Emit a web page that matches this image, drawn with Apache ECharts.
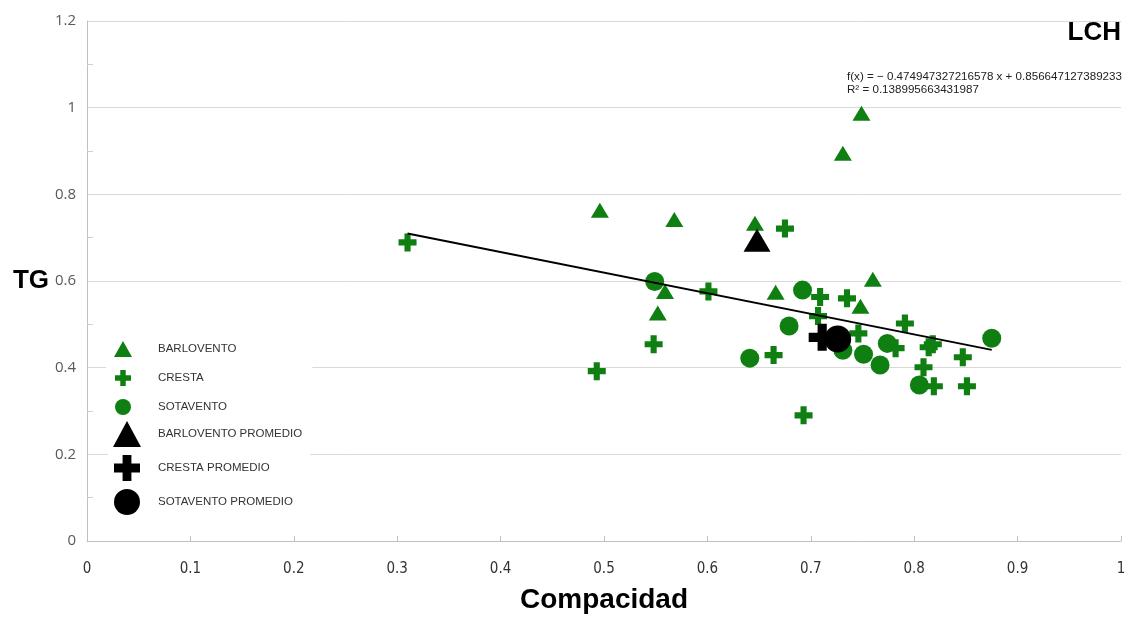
<!DOCTYPE html>
<html>
<head>
<meta charset="utf-8">
<script src="https://cdn.jsdelivr.net/npm/echarts@6/dist/echarts.min.js"></script>
<style>
html,body{margin:0;padding:0;background:#fff;}
#chart{width:1127px;height:617px;}
</style>
</head>
<body>
<div id="chart"></div>
<script>
// ---- data ----
const barloventoX = [0.496, 0.568, 0.646, 0.749, 0.731, 0.760, 0.559, 0.552, 0.666, 0.748];
const barloventoY = [0.763, 0.742, 0.733, 0.987, 0.895, 0.604, 0.576, 0.526, 0.574, 0.542];
const crestaX = [0.310, 0.493, 0.548, 0.601, 0.675, 0.664, 0.693, 0.709, 0.735, 0.707, 0.746, 0.791, 0.782, 0.814, 0.818, 0.809, 0.819, 0.847, 0.851];
const crestaY = [0.689, 0.392, 0.454, 0.576, 0.721, 0.429, 0.290, 0.563, 0.560, 0.519, 0.479, 0.502, 0.445, 0.447, 0.454, 0.401, 0.357, 0.424, 0.357];
const sotaventoX = [0.549, 0.692, 0.679, 0.641, 0.731, 0.751, 0.767, 0.774, 0.805, 0.875];
const sotaventoY = [0.599, 0.579, 0.496, 0.422, 0.440, 0.431, 0.406, 0.456, 0.360, 0.468];
const barloventoPromX = [0.648];
const barloventoPromY = [0.694];
const crestaPromX = [0.711];
const crestaPromY = [0.470];
const sotaventoPromX = [0.726];
const sotaventoPromY = [0.466];
const trendSlope = -0.474947327216578;
const trendIntercept = 0.856647127389233;
const trendR2 = 0.138995663431987;
const seriesNames = ['BARLOVENTO', 'CRESTA', 'SOTAVENTO', 'BARLOVENTO PROMEDIO', 'CRESTA PROMEDIO', 'SOTAVENTO PROMEDIO'];
const xTicks = [0, 0.1, 0.2, 0.3, 0.4, 0.5, 0.6, 0.7, 0.8, 0.9, 1];
const yTicks = [0, 0.2, 0.4, 0.6, 0.8, 1, 1.2];

// ---- build ----
const zip = (xs, ys) => xs.map((x, i) => [x, ys[i]]);
const allX = barloventoX.concat(crestaX, sotaventoX);
const xMin = Math.min(...allX), xMax = Math.max(...allX);
const trendData = [[xMin, trendSlope * xMin + trendIntercept], [xMax, trendSlope * xMax + trendIntercept]];

const PLUS = 'path://M33,0H67V33H100V67H67V100H33V67H0V33H33Z';
const GREEN = '#0f7f12';

const chart = echarts.init(document.getElementById('chart'), null, {renderer: 'canvas'});
const legendText = {fontFamily: '"Liberation Sans", Arial, sans-serif', fontSize: 11.5, color: '#333'};

chart.setOption({
  animation: false,
  backgroundColor: '#fff',
  grid: {left: 87, right: 6, top: 21, bottom: 76, containLabel: false, outerBoundsMode: 'none'},
  title: [
    {text: 'LCH', right: 6, top: 20, padding: 0,
     textStyle: {fontFamily: '"Liberation Sans", Arial, sans-serif', fontWeight: 'bold', fontSize: 26, color: '#000'}},
    {text: 'f(x) = − ' + Math.abs(trendSlope) + ' x + ' + trendIntercept + '\nR² = ' + trendR2,
     left: 847, top: 70, padding: 0,
     textStyle: {fontFamily: '"Liberation Sans", Arial, sans-serif', fontWeight: 'normal', fontSize: 11.6, lineHeight: 13, color: '#222'}}
  ],
  legend: [
    {data: seriesNames.slice(0, 3), orient: 'vertical', left: 106, top: 335,
     itemWidth: 18, itemHeight: 16, itemGap: 13, backgroundColor: '#fff', padding: [6, 76, 6, 8],
     selectedMode: false,
     textStyle: Object.assign({}, legendText, {padding: [0, 0, 0, 21]})},
    {data: seriesNames.slice(3), orient: 'vertical', left: 108, top: 418,
     itemWidth: 28, itemHeight: 26, itemGap: 8, backgroundColor: '#fff', padding: [3, 8, 3, 5],
     selectedMode: false,
     textStyle: Object.assign({}, legendText, {padding: [0, 0, 0, 12]})}
  ],
  xAxis: {
    type: 'value', min: xTicks[0], max: xTicks[xTicks.length - 1], interval: 0.1,
    name: 'Compacidad', nameLocation: 'middle', nameGap: 45,
    nameTextStyle: {fontFamily: '"Liberation Sans", Arial, sans-serif', fontWeight: 'bold', fontSize: 28, color: '#000'},
    axisLine: {show: true, lineStyle: {color: '#bfbfbf', width: 1}},
    axisTick: {show: true, inside: true, length: 5, lineStyle: {color: '#bfbfbf'}},
    splitLine: {show: false},
    axisLabel: {margin: 21, fontFamily: '"Liberation Sans Narrow", "DejaVu Sans Condensed", sans-serif', fontSize: 15, color: '#333',
      formatter: v => String(+v.toFixed(1))}
  },
  yAxis: {
    type: 'value', min: yTicks[0], max: yTicks[yTicks.length - 1], interval: 0.2,
    name: 'TG', nameLocation: 'middle', nameGap: 37, nameRotate: 0,
    nameTextStyle: {fontFamily: '"Liberation Sans", Arial, sans-serif', fontWeight: 'bold', fontSize: 26, color: '#000', padding: [0, 0, 0, 0]},
    axisLine: {show: true, lineStyle: {color: '#bfbfbf', width: 1}},
    axisTick: {show: false, inside: true},
    minorTick: {show: true, splitNumber: 2, length: 6, lineStyle: {color: '#d0d0d0'}},
    splitLine: {show: true, lineStyle: {color: '#d9d9d9', width: 1}},
    axisLabel: {margin: 11, fontFamily: '"Open Sans", "Noto Sans", sans-serif', fontSize: 15, color: '#595959',
      formatter: v => String(+v.toFixed(1))}
  },
  series: [
    {name: seriesNames[0], type: 'scatter', data: zip(barloventoX, barloventoY),
     symbol: 'triangle', symbolSize: [18, 15], itemStyle: {color: GREEN, opacity: 1}, z: 2},
    {name: seriesNames[1], type: 'scatter', data: zip(crestaX, crestaY),
     symbol: PLUS, symbolSize: [18, 18], itemStyle: {color: GREEN, opacity: 1}, z: 2},
    {name: seriesNames[2], type: 'scatter', data: zip(sotaventoX, sotaventoY),
     symbol: 'circle', symbolSize: 19, itemStyle: {color: GREEN, opacity: 1}, z: 2},
    {name: 'trend', type: 'line', data: trendData, symbol: 'none', silent: true,
     lineStyle: {color: '#000', width: 2}, z: 3},
    {name: seriesNames[3], type: 'scatter', data: zip(barloventoPromX, barloventoPromY),
     symbol: 'triangle', symbolSize: [27, 23], itemStyle: {color: '#000', opacity: 1}, z: 4},
    {name: seriesNames[4], type: 'scatter', data: zip(crestaPromX, crestaPromY),
     symbol: PLUS, symbolSize: [27, 27], itemStyle: {color: '#000', opacity: 1}, z: 4},
    {name: seriesNames[5], type: 'scatter', data: zip(sotaventoPromX, sotaventoPromY),
     symbol: 'circle', symbolSize: 27, itemStyle: {color: '#000', opacity: 1}, z: 4}
  ]
});
</script>
</body>
</html>
